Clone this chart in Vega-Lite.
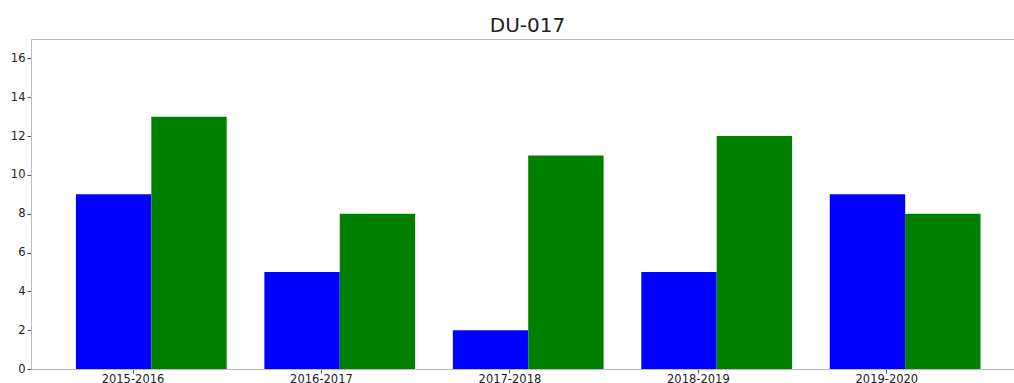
{
  "$schema": "https://vega.github.io/schema/vega-lite/v6.json",
  "autosize": "none",
  "width": 983,
  "height": 330,
  "padding": {"left": 31, "top": 39, "right": 0, "bottom": 14},
  "background": "white",
  "title": {"text": "DU-017", "fontSize": 20, "font": "DejaVu Sans", "fontWeight": "normal", "color": "#222222", "baseline": "alphabetic", "offset": -13, "dx": 5},
  "data": {"values": [
    {"period": "2015-2016", "series": "A", "value": 9},
    {"period": "2015-2016", "series": "B", "value": 13},
    {"period": "2016-2017", "series": "A", "value": 5},
    {"period": "2016-2017", "series": "B", "value": 8},
    {"period": "2017-2018", "series": "A", "value": 2},
    {"period": "2017-2018", "series": "B", "value": 11},
    {"period": "2018-2019", "series": "A", "value": 5},
    {"period": "2018-2019", "series": "B", "value": 12},
    {"period": "2019-2020", "series": "A", "value": 9},
    {"period": "2019-2020", "series": "B", "value": 8}
  ]},
  "mark": {"type": "bar"},
  "encoding": {
    "x": {"field": "period", "type": "nominal", "title": null,
      "scale": {"paddingInner": 0.2, "paddingOuter": 0.208, "align": 0.573},
      "axis": {"labelAngle": 0, "tickOffset": -18.8, "domainColor": "#bbbbbb", "tickColor": "#555555", "tickSize": 4, "labelPadding": 0, "labelFont": "DejaVu Sans", "labelFontSize": 11.5, "labelColor": "#222222"}},
    "xOffset": {"field": "series", "type": "nominal"},
    "y": {"field": "value", "type": "quantitative", "title": null,
      "scale": {"domain": [0, 17], "nice": false},
      "axis": {"values": [0, 2, 4, 6, 8, 10, 12, 14, 16], "grid": false, "domainColor": "#bbbbbb", "tickColor": "#555555", "tickSize": 4, "labelPadding": 2, "labelFont": "DejaVu Sans", "labelFontSize": 11.5, "labelColor": "#222222"}},
    "color": {"field": "series", "type": "nominal", "legend": null,
      "scale": {"domain": ["A", "B"], "range": ["#0000ff", "#008000"]}}
  },
  "config": {"view": {"stroke": "#bbbbbb"}}
}
